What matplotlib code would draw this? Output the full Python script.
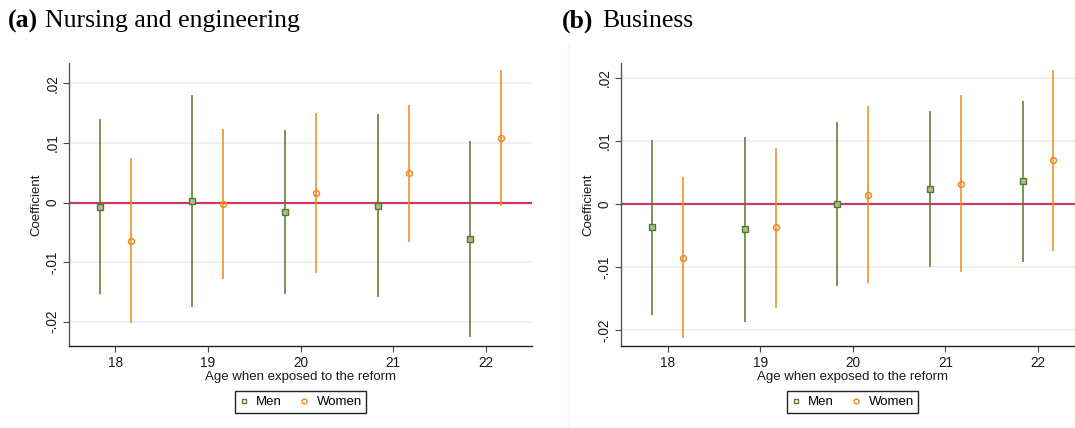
import matplotlib.pyplot as plt
from matplotlib.lines import Line2D

# ages at exposure
ages = [18, 19, 20, 21, 22]

# panel (a): nursing and engineering
nurs_men = [-0.0007, 0.0003, -0.0016, -0.0005, -0.0062]
nurs_men_lo = [-0.0154, -0.0175, -0.0154, -0.0159, -0.0226]
nurs_men_hi = [0.0140, 0.0181, 0.0122, 0.0148, 0.0104]
nurs_women = [-0.0064, -0.0002, 0.0016, 0.0050, 0.0108]
nurs_women_lo = [-0.0202, -0.0129, -0.0118, -0.0066, -0.0006]
nurs_women_hi = [0.0075, 0.0124, 0.0150, 0.0164, 0.0222]

# panel (b): business
bus_men = [-0.0036, -0.0040, 0.0000, 0.0024, 0.0036]
bus_men_lo = [-0.0175, -0.0186, -0.0129, -0.0099, -0.0092]
bus_men_hi = [0.0102, 0.0106, 0.0129, 0.0147, 0.0163]
bus_women = [-0.0085, -0.0037, 0.0015, 0.0032, 0.0069]
bus_women_lo = [-0.0212, -0.0164, -0.0125, -0.0108, -0.0074]
bus_women_hi = [0.0042, 0.0089, 0.0155, 0.0173, 0.0212]

yticks = [-0.02, -0.01, 0, 0.01, 0.02]
ytick_labels = ['-.02', '-.01', '0', '.01', '.02']

men_col = '#58772f'
women_col = '#ec8a1a'
zero_col = '#cc3a63'
grid_col = '#e9eff0'
txt_col = '#1a1a1a'

plt.rcParams['font.family'] = ['Liberation Sans', 'DejaVu Sans']

fig = plt.figure(figsize=(10.75, 4.28), dpi=100)
W, H = 1075, 428


def draw_panel(rect, men, men_lo, men_hi, women, women_lo, women_hi, ylim):
    ax = fig.add_axes(rect)
    off = 0.167
    xm = [a - off for a in ages]
    xw = [a + off for a in ages]
    for y in yticks:
        if y != 0:
            ax.axhline(y, color=grid_col, lw=1.3, zorder=0)
    ax.axhline(0, color=zero_col, lw=1.6, zorder=1)
    ax.vlines(xm, men_lo, men_hi, color=men_col, lw=1.3, alpha=0.85, zorder=2)
    ax.vlines(xw, women_lo, women_hi, color=women_col, lw=1.3, alpha=0.85, zorder=2)
    ax.plot(xm, men, ls='none', marker='s', ms=4.2, mec=men_col, mfc='#a9bd8e',
            mew=1.0, zorder=3)
    ax.plot(xw, women, ls='none', marker='o', ms=4.2, mec=women_col, mfc='none',
            mew=1.1, zorder=3)
    ax.set_xlim(17.5, 22.5)
    ax.set_ylim(*ylim)
    ax.set_xticks(ages)
    ax.set_yticks(yticks)
    ax.set_yticklabels(ytick_labels, rotation=90, va='center')
    ax.tick_params(axis='both', labelsize=9.8, colors=txt_col, length=4,
                   width=0.8, color='#444444', pad=3)
    for s in ['top', 'right']:
        ax.spines[s].set_visible(False)
    ax.spines['left'].set_color('#555555')
    ax.spines['bottom'].set_color('#222222')
    ax.spines['left'].set_linewidth(1.0)
    ax.spines['bottom'].set_linewidth(1.0)
    ax.set_ylabel('Coefficient', fontsize=9.5, color=txt_col, labelpad=2)
    ax.set_xlabel('Age when exposed to the reform', fontsize=9.5, color=txt_col,
                  labelpad=1)
    handles = [
        Line2D([], [], ls='none', marker='s', ms=3.5, mec=men_col, mfc='none', mew=1.0),
        Line2D([], [], ls='none', marker='o', ms=3.5, mec=women_col, mfc='none', mew=1.0),
    ]
    return ax, handles


bottom = (H - 346) / H
height = (346 - 62.7) / H
width = 463 / W

ax1, h1 = draw_panel([69 / W, bottom, width, height], nurs_men, nurs_men_lo,
                     nurs_men_hi, nurs_women, nurs_women_lo, nurs_women_hi,
                     (-0.02408, 0.02348))
ax2, h2 = draw_panel([621.3 / W, bottom, width, height], bus_men, bus_men_lo,
                     bus_men_hi, bus_women, bus_women_lo, bus_women_hi,
                     (-0.02247, 0.02236))

for cx, h in [(300.5, h1), (852.5, h2)]:
    fig.legend(h, ['Men', 'Women'], loc='center', bbox_to_anchor=(cx / W, 1 - 402 / H),
               ncol=2, fontsize=9.5, frameon=True, fancybox=False, edgecolor='#222222',
               handlelength=0.7, handletextpad=0.6, columnspacing=1.3,
               borderpad=0.35, framealpha=1)

# faint border of the right graph region
fig.add_artist(Line2D([568 / W, 568 / W], [0, 1 - 45 / H], color='#eef3f3', lw=1.0))

# panel titles
ty = 1 - 21 / H
for x0, x1, tag, name in [(8, 45, '(a)', 'Nursing and engineering'),
                          (562, 602, '(b)', 'Business')]:
    fig.text(x0 / W, ty, tag, fontsize=18.5, fontweight='bold', va='center',
             family='Liberation Serif')
    fig.text(x1 / W, ty, name, fontsize=18.5, va='center', family='Liberation Serif')

fig.savefig('out.png', dpi=100)
